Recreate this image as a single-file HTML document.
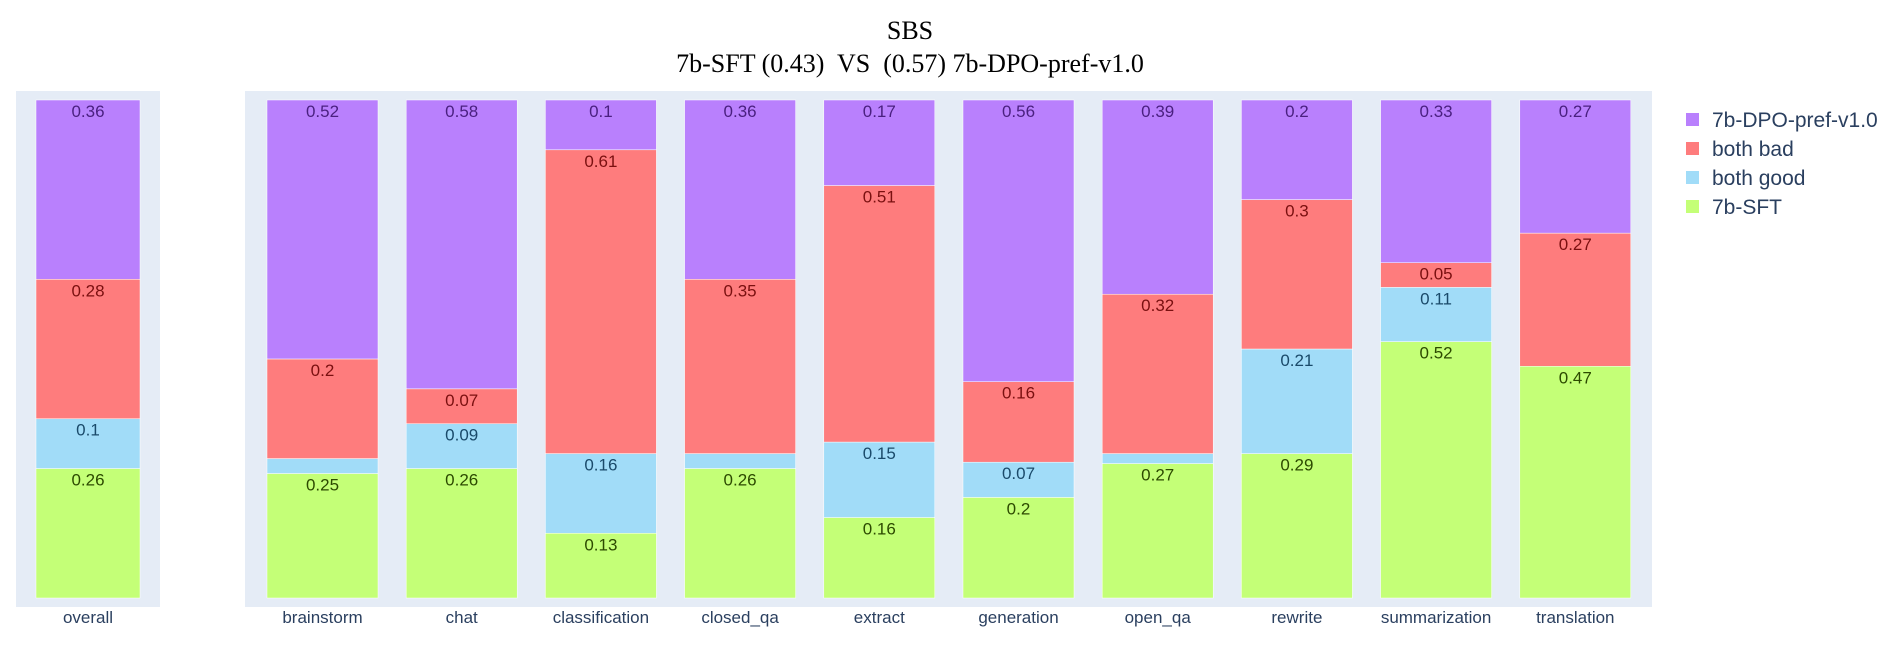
<!DOCTYPE html>
<html><head><meta charset="utf-8"><style>
body{margin:0;background:#fff;}
svg text{font-family:"Liberation Sans","DejaVu Sans",sans-serif;white-space:pre;}
</style></head><body>
<svg id="c" width="1903" height="658" xmlns="http://www.w3.org/2000/svg">
<text x="910" y="39" text-anchor="middle" font-size="26" style="font-family:'Liberation Serif',serif" fill="#000">SBS</text>
<text x="910" y="72" text-anchor="middle" font-size="26" style="font-family:'Liberation Serif',serif;white-space:pre" fill="#000">7b-SFT (0.43)  VS  (0.57) 7b-DPO-pref-v1.0</text>
<rect x="16" y="91" width="144" height="516" fill="#e5ecf6"/>
<rect x="245" y="91" width="1407" height="516" fill="#e5ecf6"/>
<g id="bars"></g>
<g id="legend"></g>
</svg>
<script>
const categories=["overall","brainstorm","chat","classification","closed_qa","extract","generation","open_qa","rewrite","summarization","translation"];
const sft=[0.26,0.25,0.26,0.13,0.26,0.16,0.2,0.27,0.29,0.52,0.47];
const bothGood=[0.1,0.03,0.09,0.16,0.03,0.15,0.07,0.02,0.21,0.11,0];
const bothBad=[0.28,0.2,0.07,0.61,0.35,0.51,0.16,0.32,0.3,0.05,0.27];
const dpo=[0.36,0.52,0.58,0.1,0.36,0.17,0.56,0.39,0.2,0.33,0.27];
const seriesNames=["7b-SFT","both good","both bad","7b-DPO-pref-v1.0"];
const seriesVals=[sft,bothGood,bothBad,dpo];
const fills=["#c4ff77","#a1dcf8","#fe7c7d","#b980fd"];
const textCols=["#2c4a00","#1a4a6a","#7a1010","#4a2080"];
const NS="http://www.w3.org/2000/svg";
const g=document.getElementById('bars');
const y0=598,H=498;
function yS(v){return y0-v*H;}
function xC(i){return i===0?88:322.5+(i-1)*139.2;}
function bw(i){return i===0?104:111;}
function mk(t,a){const e=document.createElementNS(NS,t);for(const k in a)e.setAttribute(k,a[k]);return e;}
categories.forEach((c,i)=>{
  let cum=0;
  const tot=seriesVals.reduce((a,arr)=>a+arr[i],0);
  seriesVals.forEach((arr,s)=>{
    const v=arr[i];if(v<=0)return;
    const top=yS((cum+v)/tot),bot=yS(cum/tot);
    const r=mk('rect',{x:xC(i)-bw(i)/2,y:top,width:bw(i),height:bot-top,fill:fills[s],stroke:'#fff','stroke-width':0.5});
    
    
    g.appendChild(r);
    if(v>=0.05){
      const t=mk('text',{x:xC(i),y:top+17,'text-anchor':'middle','font-size':17,fill:textCols[s]});
      
      
      t.textContent=String(v);g.appendChild(t);
    }
    cum+=v;
  });
  const l=mk('text',{x:xC(i),y:623,'text-anchor':'middle','font-size':17,fill:'#2a3f5f'});
  
  
  l.textContent=c;g.appendChild(l);
});
const lg=document.getElementById('legend');
[3,2,1,0].forEach((s,k)=>{
  const y=120+k*29;
  const r=mk('rect',{x:1686,y:y-7,width:13,height:13,fill:fills[s]});
  
  
  lg.appendChild(r);
  const t=mk('text',{x:1712,y:y+7,'font-size':21,fill:'#2a3f5f'});
  
  
  t.textContent=seriesNames[s];lg.appendChild(t);
});
</script>
</body></html>
